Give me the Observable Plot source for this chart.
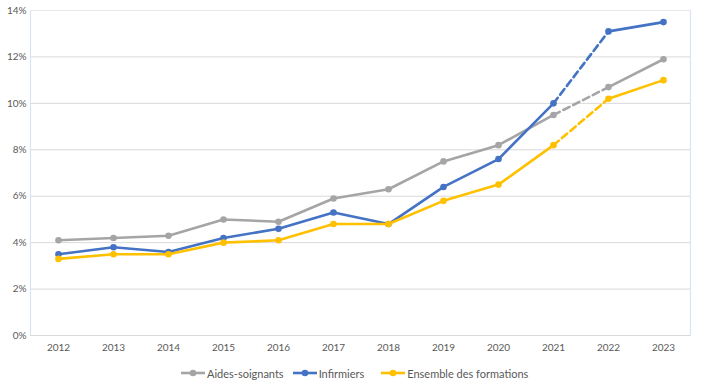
<!DOCTYPE html>
<html>
<head>
<meta charset="utf-8">
<script src="https://cdn.jsdelivr.net/npm/d3@7"></script>
<script src="https://cdn.jsdelivr.net/npm/@observablehq/plot@0.6"></script>
<style>
  html, body { margin: 0; padding: 0; background: #fff; }
  body { width: 702px; height: 388px; overflow: hidden; font-family: Lato, "Liberation Sans", sans-serif; }
  #legend { display: flex; justify-content: flex-start; align-items: center; height: 30px; font-size: 11px; color: #595959; padding-left: 180px; }
  .item { display: flex; align-items: center; }
  .item svg { margin-right: 1px; }
</style>
</head>
<body>
<div id="chart"></div>
<div id="legend"></div>
<script>
const years = ["2012","2013","2014","2015","2016","2017","2018","2019","2020","2021","2022","2023"];
const aidesSoignants = [4.1, 4.2, 4.3, 5.0, 4.9, 5.9, 6.3, 7.5, 8.2, 9.5, 10.7, 11.9];
const infirmiers = [3.5, 3.8, 3.6, 4.2, 4.6, 5.3, 4.8, 6.4, 7.6, 10.0, 13.1, 13.5];
const ensemble = [3.3, 3.5, 3.5, 4.0, 4.1, 4.8, 4.8, 5.8, 6.5, 8.2, 10.2, 11.0];
const seriesNames = ["Aides-soignants", "Infirmiers", "Ensemble des formations"];
const seriesColors = ["#A5A5A5", "#4472C4", "#FFC000"];
const yTicks = [0, 0.02, 0.04, 0.06, 0.08, 0.10, 0.12, 0.14];
// years between which the line is dashed
const dashedFrom = "2021", dashedTo = "2022";

const allValues = [aidesSoignants, infirmiers, ensemble];
const rows = [];
allValues.forEach((vals, si) => {
  vals.forEach((v, i) => rows.push({series: seriesNames[si], year: years[i], value: v / 100}));
});
const iFrom = years.indexOf(dashedFrom), iTo = years.indexOf(dashedTo);
const segRows = [];
seriesNames.forEach(s => {
  const r = rows.filter(d => d.series === s);
  r.forEach((d, i) => {
    if (i <= iFrom) segRows.push({...d, seg: s + "-a", kind: "solid"});
    if (i >= iFrom && i <= iTo) segRows.push({...d, seg: s + "-b", kind: "dash"});
    if (i >= iTo) segRows.push({...d, seg: s + "-c", kind: "solid"});
  });
});

const marks = [
  Plot.gridY(yTicks, {stroke: "#d9d9d9", strokeOpacity: 1}),
  Plot.frame({stroke: "#dae3f3", strokeWidth: 1.2, anchor: "left"}),
  Plot.frame({stroke: "#dae3f3", strokeWidth: 1.2, anchor: "right"}),
  Plot.ruleY([0.14], {stroke: "#e8e8e8"}),
  Plot.ruleY([0], {stroke: "#d9d9d9"}),
  Plot.axisY(yTicks, {tickSize: 0, tickPadding: 4, tickFormat: d3.format(".0%"), fontSize: 10, fill: "#595959", label: null}),
  Plot.axisX({tickSize: 0, tickPadding: 8, fontSize: 10, fill: "#595959", label: null})
];
seriesNames.forEach((s, si) => {
  const solid = segRows.filter(d => d.series === s && d.kind === "solid");
  const dash = segRows.filter(d => d.series === s && d.kind === "dash");
  marks.push(Plot.line(solid, {x: "year", y: "value", z: "seg", stroke: seriesColors[si], strokeWidth: 2.6, strokeLinejoin: "round", strokeLinecap: "round"}));
  marks.push(Plot.line(dash, {x: "year", y: "value", stroke: seriesColors[si], strokeWidth: 2.6, strokeDasharray: "7,4"}));
  marks.push(Plot.dot(rows.filter(d => d.series === s), {x: "year", y: "value", r: 3.3, fill: seriesColors[si], stroke: "none"}));
});

const chart = Plot.plot({
  width: 702,
  height: 358,
  marginLeft: 30,
  marginRight: 12,
  marginTop: 10,
  marginBottom: 23,
  style: {fontFamily: "Lato, 'Liberation Sans', sans-serif", background: "#fff"},
  x: {type: "point", domain: years, padding: 0.5, label: null},
  y: {domain: [0, 0.14], label: null},
  marks
});
document.getElementById("chart").appendChild(chart);

const legend = document.getElementById("legend");
const gaps = [8, 16, 0];
seriesNames.forEach((s, si) => {
  const item = document.createElement("div");
  item.className = "item";
  item.style.marginRight = gaps[si] + "px";
  item.innerHTML = `<svg width="26" height="8"><line x1="1" x2="25" y1="4" y2="4" stroke="${seriesColors[si]}" stroke-width="2.6"/><circle cx="13" cy="4" r="3.3" fill="${seriesColors[si]}"/></svg><span>${s}</span>`;
  legend.appendChild(item);
});
</script>
</body>
</html>
